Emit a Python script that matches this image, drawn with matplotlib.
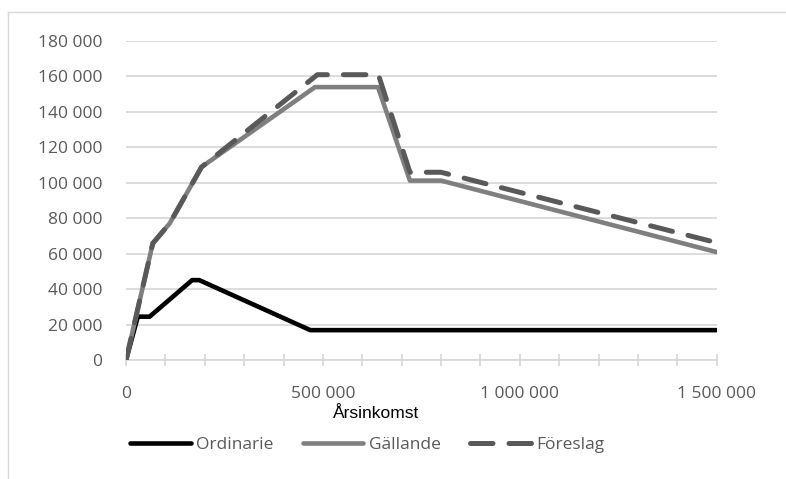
import matplotlib
matplotlib.use("Agg")
import matplotlib.pyplot as plt
from matplotlib.ticker import MultipleLocator, FuncFormatter
from matplotlib.lines import Line2D

# data
ordinarie_x = [0, 30000, 60000, 168000, 186000, 468000, 1500000]
ordinarie_y = [0, 24600, 24600, 45200, 45200, 17000, 17000]

gallande_x = [0, 68000, 111000, 192000, 480000, 640000, 721000, 800000, 1500000]
gallande_y = [0, 65900, 77200, 109000, 154000, 154000, 101300, 101300, 61000]

foreslag_x = [0, 68000, 111000, 192000, 486000, 641000, 721000, 800000, 1500000]
foreslag_y = [0, 65900, 77200, 109000, 161000, 161000, 106000, 106000, 66300]

series_names = ["Ordinarie", "Gällande", "Föreslag"]
x_title = "Årsinkomst"

txt = "#595959"
grid = "#d9d9d9"
fonts = ["Open Sans", "DejaVu Sans"]

fig = plt.figure(figsize=(7.86, 4.79), dpi=100)
ax = fig.add_axes([0.1603, 0.2478, 0.9118 - 0.1603, 0.9144 - 0.2478])

ax.plot(ordinarie_x, ordinarie_y, color="black", lw=3.3,
        solid_capstyle="round", solid_joinstyle="round", label=series_names[0], zorder=3)
ax.plot(gallande_x, gallande_y, color="#7f7f7f", lw=3.3,
        solid_capstyle="round", solid_joinstyle="round", label=series_names[1], zorder=3)
ax.plot(foreslag_x, foreslag_y, color="#595959", lw=3.6, dashes=(4.5, 3.2),
        dash_capstyle="round", dash_joinstyle="round", label=series_names[2], zorder=4)

ax.set_xlim(0, 1500000)
ax.set_ylim(0, 180000)
ax.yaxis.set_major_locator(MultipleLocator(20000))
ax.xaxis.set_major_locator(MultipleLocator(500000))
ax.xaxis.set_minor_locator(MultipleLocator(100000))

fmt = FuncFormatter(lambda v, p: "{:,.0f}".format(v).replace(",", " "))
ax.xaxis.set_major_formatter(fmt)
ax.yaxis.set_major_formatter(fmt)

ax.grid(axis="y", color=grid, lw=1.3, zorder=0)
for s in ["top", "right", "left"]:
    ax.spines[s].set_visible(False)
ax.spines["bottom"].set_color(grid)
ax.spines["bottom"].set_linewidth(1.3)

ax.tick_params(axis="y", length=0, pad=17, labelsize=12.5, labelcolor=txt)
ax.tick_params(axis="x", which="both", direction="inout", length=9, width=1.3,
               color=grid, pad=14, labelsize=12.5, labelcolor=txt)
for lab in ax.get_xticklabels() + ax.get_yticklabels():
    lab.set_family(fonts)

fig.text(376 / 786, 1 - 413 / 479, x_title, ha="center", va="center",
         fontsize=12.5, color="black", family=["Liberation Sans", "DejaVu Sans"])

handles = [
    Line2D([], [], color="black", lw=3.3, solid_capstyle="round"),
    Line2D([], [], color="#7f7f7f", lw=3.3, solid_capstyle="round"),
    Line2D([], [], color="#595959", lw=3.6, dashes=(4.5, 3.2), dash_capstyle="round"),
]
leg = fig.legend(handles, series_names, loc="center", bbox_to_anchor=(367 / 786, 1 - 445 / 479),
                 ncol=3, frameon=False, handlelength=3.5, handletextpad=0.3,
                 columnspacing=1.7, prop={"family": fonts, "size": 12.5})
for t in leg.get_texts():
    t.set_color(txt)

# chart frame fragments
fig.add_artist(Line2D([8 / 786, 8 / 786], [0, 1 - 12 / 479], color=grid, lw=1.0))
fig.add_artist(Line2D([8 / 786, 1], [1 - 12 / 479, 1 - 12 / 479], color=grid, lw=1.0))

fig.savefig("out.png", dpi=100)
